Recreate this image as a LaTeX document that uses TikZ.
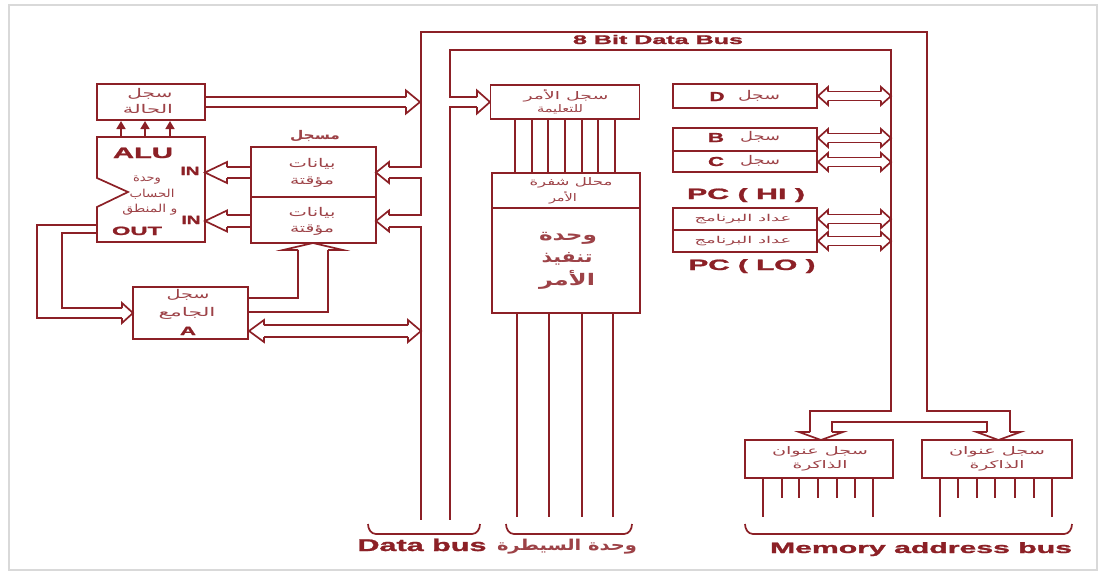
\documentclass[tikz,border=0pt]{standalone}
\usepackage{fontspec}
\usepackage{graphicx}
\setmainfont{Liberation Sans}
\newfontfamily\heavyfont[FakeBold=1.3]{Liberation Sans Bold}
\newfontfamily\arabicfont[Script=Arabic]{DejaVu Sans}
\TeXXeTstate=1
\usetikzlibrary{arrows.meta}
\definecolor{rc}{RGB}{140,32,38}
% resized labels: width, font size, text
\newcommand{\ltw}[3]{\resizebox{#1pt}{\height}{\fontsize{#2}{#2}\selectfont\heavyfont #3}}
\newcommand{\arw}[3]{\resizebox{#1pt}{\height}{\fontsize{#2}{#2}\selectfont\arabicfont #3}}
\newcommand{\arb}[3]{\resizebox{#1pt}{\height}{\fontsize{#2}{#2}\selectfont\arabicfont\bfseries #3}}
% hollow arrow heads: tip x, tip y, length, half width, half gap
\newcommand{\hdR}[5]{\draw[ln] (#1-#3,#2-#5) -- (#1-#3,#2-#4) -- (#1,#2) -- (#1-#3,#2+#4) -- (#1-#3,#2+#5);}
\newcommand{\hdL}[5]{\draw[ln] (#1+#3,#2-#5) -- (#1+#3,#2-#4) -- (#1,#2) -- (#1+#3,#2+#4) -- (#1+#3,#2+#5);}
\newcommand{\hdU}[5]{\draw[ln] (#1-#5,#2+#3) -- (#1-#4,#2+#3) -- (#1,#2) -- (#1+#4,#2+#3) -- (#1+#5,#2+#3);}
\newcommand{\hdD}[5]{\draw[ln] (#1-#5,#2-#3) -- (#1-#4,#2-#3) -- (#1,#2) -- (#1+#4,#2-#3) -- (#1+#5,#2-#3);}
% double headed bus arrow between right registers and the bus
\newcommand{\dblarrow}[1]{%
  \draw[ln] (828,#1-4.5) -- (881,#1-4.5);
  \draw[ln] (828,#1+4.5) -- (881,#1+4.5);
  \hdL{818}{#1}{10}{9}{4.5}
  \hdR{891}{#1}{10}{9}{4.5}}
\newcommand{\busbrace}[2]{\draw[ln] (#1,524) to[out=-90,in=180] (#1+8,534) -- (#2-8,534) to[out=0,in=-90] (#2,524);}
\begin{document}
\begin{tikzpicture}[x=1pt,y=-1pt,
  ln/.style={draw=rc, line width=1.7pt, line join=miter},
  box/.style={draw=rc, line width=1.7pt, fill=white, inner sep=0pt},
  lbl/.style={text=rc, inner sep=0pt, anchor=base},
  alb/.style={text=rc!85, inner sep=0pt, anchor=center},
  tipup/.style={-{Triangle[length=8pt,width=9pt]}}]

\useasboundingbox (0,0) rectangle (1101,576);
\fill[white] (0,0) rectangle (1101,576);
\draw[gray!30, line width=1.5pt] (9,5) rectangle (1097,570);

% ---------- left part ----------
\node[box, minimum width=108pt, minimum height=36pt] (status) at (151,102) {};
\node[alb] (st1) at (150,94) {\arw{45}{12}{\beginR سجل\endR}};
\node[alb] (st2) at (148,109) {\arw{50}{12}{\beginR الحالة\endR}};

\draw[ln] (97,137) -- (205,137) -- (205,242) -- (97,242) -- (97,207) -- (128,192) -- (97,178) -- cycle;
\coordinate (alu) at (151,190);
\foreach \x in {121,145,170} \draw[ln,tipup] (\x,137) -- (\x,121);
\node[lbl] (alut) at (143,158) {\ltw{60}{15}{ALU}};
\node[lbl] (in1) at (190,175) {\ltw{19}{12}{IN}};
\node[lbl] (in2) at (191,224) {\ltw{19}{12}{IN}};
\node[lbl] (out) at (137,235) {\ltw{50}{12}{OUT}};
\node[alb] (alua) at (147,180) {\arw{28}{11}{\beginR وحدة\endR}};
\node[alb] (alub) at (152,194) {\arw{45}{11}{\beginR الحساب\endR}};
\node[alb] (aluc) at (150,210) {\arw{55}{11}{\beginR و المنطق\endR}};

\node[alb] (regt) at (315,136) {\arb{50}{12}{\beginR مسجل\endR}};
\node[box, minimum width=125pt, minimum height=96pt] (temp) at (313.5,195) {};
\draw[ln] (temp.west |- 0,197) -- (temp.east |- 0,197);
\node[alb] (tp1) at (312,164) {\arw{47}{12}{\beginR بيانات\endR}};
\node[alb] (tp2) at (312,182) {\arw{44}{12}{\beginR مؤقتة\endR}};
\node[alb] (tp3) at (312,213) {\arw{47}{12}{\beginR بيانات\endR}};
\node[alb] (tp4) at (312,230) {\arw{44}{12}{\beginR مؤقتة\endR}};

% temp -> ALU
\draw[ln] (251,167) -- (227,167);
\draw[ln] (251,178) -- (227,178);
\hdL{205}{172.5}{22}{10.5}{5.5}
\draw[ln] (251,215) -- (227,215);
\draw[ln] (251,227) -- (227,227);
\hdL{205}{221}{22}{10.5}{6}

% bus -> temp
\hdL{376}{172.5}{13}{10.5}{5.5}
\hdL{376}{221}{13}{10.5}{6}

% status -> bus
\draw[ln] (205,97) -- (406,97);
\draw[ln] (205,107) -- (406,107);
\hdR{420}{102}{14}{11.5}{5}

% accumulator
\node[box, minimum width=115pt, minimum height=52pt] (acc) at (190.5,313) {};
\node[alb] (ac1) at (188,295) {\arw{43}{12}{\beginR سجل\endR}};
\node[alb] (ac2) at (187,313) {\arw{57}{12}{\beginR الجامع\endR}};
\node[lbl] (ac3) at (188,335) {\ltw{16}{12}{A}};

% ALU out -> A
\draw[ln] (97,225) -- (37,225) -- (37,318) -- (122,318);
\draw[ln] (97,233) -- (62,233) -- (62,308) -- (122,308);
\hdR{133}{313}{11}{10}{5}

% A -> temp
\draw[ln] (248,298) -- (298,298) -- (298,250);
\draw[ln] (248,312) -- (328,312) -- (328,250);
\hdU{313}{243}{7}{30}{15}

% A <-> bus
\draw[ln] (264,325) -- (408,325);
\draw[ln] (264,337) -- (408,337);
\hdL{249}{331}{15}{11}{6}
\hdR{421}{331}{13}{11}{6}

% ---------- bus lines ----------
\draw[ln] (389,167) -- (421,167) -- (421,32) -- (927,32) -- (927,411) -- (1010,411) -- (1010,432);
\draw[ln] (389,178) -- (421,178) -- (421,215) -- (389,215);
\draw[ln] (389,227) -- (421,227) -- (421,520);
\node[lbl] (bus8) at (658,44) {\ltw{170}{12.5}{8 Bit Data Bus}};

\draw[ln] (477,97) -- (450,97) -- (450,50) -- (891,50) -- (891,411) -- (810,411) -- (810,432);
\draw[ln] (477,107) -- (450,107) -- (450,520);
\hdR{490}{102}{13}{11.5}{5}
\draw[ln] (832,432) -- (832,422) -- (987,422) -- (987,432);
\hdD{821}{440}{8}{22}{11}
\hdD{998.5}{440}{8}{22}{11.5}

% ---------- control unit ----------
\node[box, minimum width=149pt, minimum height=34pt] (ir) at (565,102) {};
\node[alb] (ir1) at (566,96) {\arw{85}{10.5}{\beginR سجل الأمر\endR}};
\node[alb] (ir2) at (560,109) {\arw{46}{10.5}{\beginR للتعليمة\endR}};
\node[box, minimum width=148pt, minimum height=140pt] (dec) at (566,243) {};
\draw[ln] (dec.west |- 0,208) -- (dec.east |- 0,208);
\foreach \x in {515,531.7,548.3,565,581.7,598.3,615} \draw[ln] (\x,119) -- (\x,173);
\node[alb] (dc1) at (571,183) {\arw{83}{10.5}{\beginR محلل شفرة\endR}};
\node[alb] (dc2) at (563,198) {\arw{28}{10.5}{\beginR الأمر\endR}};
\node[alb] (ex1) at (568,238) {\arb{58}{16}{\beginR وحدة\endR}};
\node[alb] (ex2) at (567,259) {\arb{51}{16}{\beginR تنفيذ\endR}};
\node[alb] (ex3) at (567,280) {\arb{56}{16}{\beginR الأمر\endR}};
\foreach \x in {517,549,582,613} \draw[ln] (\x,313) -- (\x,517);

% ---------- right registers ----------
\node[box, minimum width=144pt, minimum height=24pt] (regd) at (745,96) {};
\node[lbl] (dl) at (717,101) {\ltw{15}{13}{D}};
\node[alb] (ds) at (759,96) {\arw{42}{12}{\beginR سجل\endR}};
\node[box, minimum width=144pt, minimum height=44pt] (regbc) at (745,150) {};
\draw[ln] (regbc.west |- 0,151) -- (regbc.east |- 0,151);
\node[lbl] (bl) at (716,142) {\ltw{16}{13}{B}};
\node[alb] (bs) at (760,137) {\arw{40}{12}{\beginR سجل\endR}};
\node[lbl] (cl) at (716,166) {\ltw{16}{13}{C}};
\node[alb] (cs) at (760,161) {\arw{40}{12}{\beginR سجل\endR}};
\node[lbl] (pchi) at (746,199) {\ltw{118}{15}{PC ( HI )}};
\node[box, minimum width=144pt, minimum height=44pt] (pc) at (745,230) {};
\draw[ln] (pc.west |- 0,230) -- (pc.east |- 0,230);
\node[alb] (pc1) at (743,219) {\arw{97}{9.5}{\beginR عداد البرنامج\endR}};
\node[alb] (pc2) at (743,241) {\arw{97}{9.5}{\beginR عداد البرنامج\endR}};
\node[lbl] (pclo) at (752,270) {\ltw{127}{15}{PC ( LO )}};
\dblarrow{96}
\dblarrow{138}
\dblarrow{162}
\dblarrow{219}
\dblarrow{241}

% ---------- memory address registers ----------
\node[box, minimum width=148pt, minimum height=38pt] (marl) at (819,459) {};
\node[alb] (ml1) at (820,452) {\arw{96}{10.5}{\beginR سجل عنوان\endR}};
\node[alb] (ml2) at (820,466) {\arw{55}{10.5}{\beginR الذاكرة\endR}};
\node[box, minimum width=150pt, minimum height=38pt] (marr) at (997,459) {};
\node[alb] (mr1) at (997,452) {\arw{96}{10.5}{\beginR سجل عنوان\endR}};
\node[alb] (mr2) at (997,466) {\arw{55}{10.5}{\beginR الذاكرة\endR}};
\foreach \x in {763,873,940,1052} \draw[ln] (\x,478) -- (\x,517);
\foreach \x in {782,799,818,837,855,958,977,995,1015,1034} \draw[ln] (\x,478) -- (\x,498);

% ---------- braces and bottom labels ----------
\busbrace{368}{480}
\busbrace{506}{632}
\busbrace{745}{1072}
\node[lbl] (dbus) at (422,551) {\ltw{129}{17}{Data bus}};
\node[alb] (cu) at (567,547) {\arb{140}{15}{\beginR وحدة السيطرة\endR}};
\node[lbl] (mab) at (921,553) {\ltw{302}{15}{Memory address bus}};
\end{tikzpicture}
\end{document}
